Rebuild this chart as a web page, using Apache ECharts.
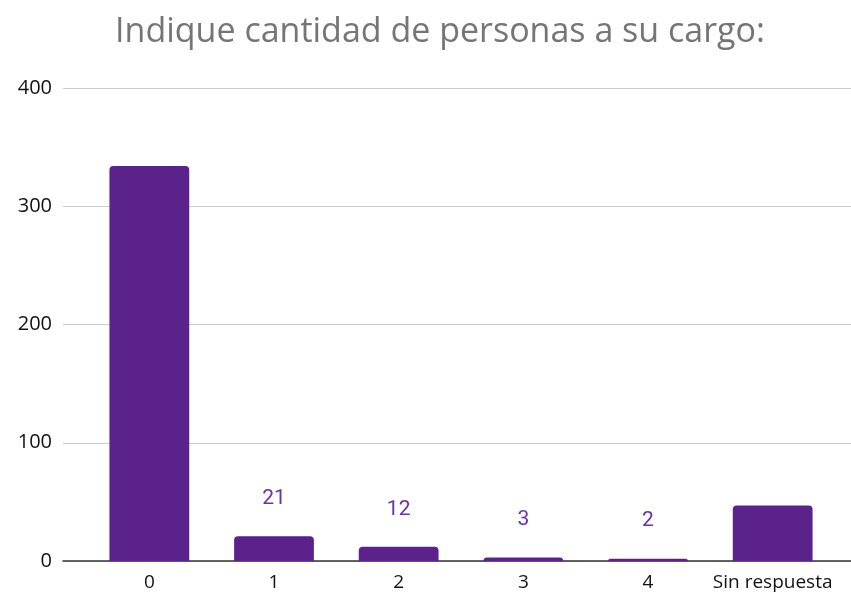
<!DOCTYPE html>
<html>
<head>
<meta charset="utf-8">
<script src="https://cdn.jsdelivr.net/npm/echarts@6/dist/echarts.min.js"></script>
<style>
  html, body { margin: 0; padding: 0; background: #fff; }
  #chart { width: 851px; height: 597px; }
</style>
</head>
<body>
<div id="chart"></div>
<script>
const categories = ['0', '1', '2', '3', '4', 'Sin respuesta']
const values = [334, 21, 12, 3, 2, 47]
const labelled = [false, true, true, true, true, false]
const yTicks = [0, 100, 200, 300, 400]

const chart = echarts.init(document.getElementById('chart'))

const barData = values.map((v, i) => ({
  value: v,
  label: { show: labelled[i] }
}))

const option = {
  animation: false,
  title: {
    text: 'Indique cantidad de personas a su cargo:',
    left: 435,
    textAlign: 'center',
    top: 10,
    textStyle: {
      fontFamily: 'Open Sans',
      fontWeight: 'normal',
      fontSize: 34,
      color: '#757575'
    }
  },
  grid: [
    { left: 63, right: 0, top: 88, bottom: 36 },
    { left: 87, right: 16, top: 88, bottom: 36 }
  ],
  xAxis: [
    {
      gridIndex: 0,
      type: 'category',
      data: [''],
      axisLine: { lineStyle: { color: '#333', width: 1.5 } },
      axisTick: { show: false },
      axisLabel: { show: false }
    },
    {
      gridIndex: 1,
      type: 'category',
      data: categories,
      axisLine: { show: false },
      axisTick: { show: false },
      axisLabel: {
        interval: 0,
        color: '#111',
        fontSize: 19,
        fontFamily: 'Open Sans',
        margin: 12
      }
    }
  ],
  yAxis: [
    {
      gridIndex: 0,
      type: 'value',
      min: yTicks[0],
      max: yTicks[yTicks.length - 1],
      interval: 100,
      axisLine: { show: false },
      axisTick: { show: false },
      axisLabel: {
        color: '#111',
        fontSize: 20,
        fontFamily: 'Open Sans',
        margin: 11
      },
      splitLine: { lineStyle: { color: '#cccccc', width: 1 } }
    },
    {
      gridIndex: 1,
      type: 'value',
      min: yTicks[0],
      max: yTicks[yTicks.length - 1],
      interval: 100,
      show: false,
      splitLine: { show: false }
    }
  ],
  series: [{
    type: 'bar',
    xAxisIndex: 1,
    yAxisIndex: 1,
    data: barData,
    barWidth: '64%',
    itemStyle: { color: '#5c228b', borderRadius: [4, 4, 0, 0] },
    label: {
      position: 'top',
      distance: 27,
      color: '#6b32a6',
      fontSize: 21,
      fontFamily: 'Roboto'
    }
  }]
}

chart.setOption(option)
</script>
</body>
</html>
